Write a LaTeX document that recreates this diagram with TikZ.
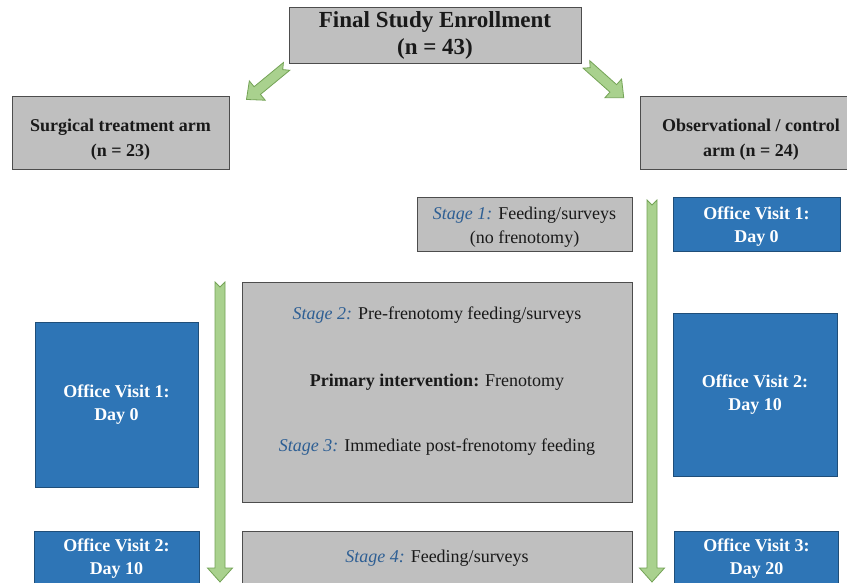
\documentclass[tikz,border=0pt]{standalone}
\usepackage{fontspec}
\setmainfont{Liberation Serif}
\usepackage{xcolor}
\usetikzlibrary{arrows.meta,positioning}

\definecolor{boxgray}{HTML}{BFBFBF}
\definecolor{boxedge}{HTML}{4D4D4D}
\definecolor{visitblue}{HTML}{2E75B6}
\definecolor{visitedge}{HTML}{1F4E79}
\definecolor{bargreen}{HTML}{A9D18E}
\definecolor{baredge}{HTML}{74A356}
\definecolor{stageblue}{HTML}{2E5F94}

% italic blue stage label
\newcommand{\stage}[1]{{\color{stageblue}\itshape Stage #1:}}
% green block arrow with notched tail: tail, angle, length
\newcommand{\greenbar}[3]{%
  \draw[barstyle, shift={#1}, rotate=#2] (0,5) -- (5,0) -- (0,-5) -- (#3-14,-5) -- (#3-14,-12.5)
    -- (#3,0) -- (#3-14,12.5) -- (#3-14,5) -- cycle;}

\begin{document}
\begin{tikzpicture}[
x=1pt, y=-1pt,
graybox/.style={draw=boxedge, fill=boxgray, line width=0.8pt, inner sep=0pt, align=center, text=black!90, font=\fontsize{18}{24}\selectfont},
armbox/.style={graybox, font=\fontsize{18}{25}\selectfont\bfseries},
visit/.style={draw=visitedge, fill=visitblue, line width=0.8pt, inner sep=0pt, align=center, text=white, font=\fontsize{18}{23.5}\selectfont\bfseries},
plain/.style={inner sep=0pt, text=black!90, font=\fontsize{18}{24}\selectfont},
barstyle/.style={draw=baredge, fill=bargreen, line width=0.8pt, line join=miter}
]
\useasboundingbox (0,0) rectangle (847,582);
\clip (0,0) rectangle (847,582);
\fill[white] (0,0) rectangle (847,582);

% enrollment and the two arms
\node[graybox, minimum width=292pt, minimum height=56pt, font=\fontsize{23}{27}\selectfont\bfseries] (enroll) at (435,35) {Final Study Enrollment\\(n = 43)};
\node[armbox, minimum width=217pt, minimum height=73pt] (surg) at (120.5,132.5) {\rule{0pt}{26pt}Surgical treatment arm\\(n = 23)};
\node[armbox, minimum width=222pt, minimum height=73pt] (obs) at (751,132.5) {\rule{0pt}{26pt}Observational / control\\arm (n = 24)};

% observational arm, first stage
\node[graybox, minimum width=215pt, minimum height=54pt] (stage1) at (524.5,224) {\rule{0pt}{18pt}\stage{1} Feeding/surveys\\(no frenotomy)};
\node[visit, minimum width=167pt, minimum height=54pt] (visit1r) at (756.5,224) {\rule{0pt}{18pt}Office Visit 1:\\Day 0};

% surgical stages
\node[graybox, minimum width=390pt, minimum height=220pt] (stages) at (437,392) {};
\node[plain] (pre) at (437,315) {\stage{2} Pre-frenotomy feeding/surveys};
\node[plain] (frenotomy) at (437,382) {\textbf{Primary intervention:} Frenotomy};
\node[plain] (post) at (437,447) {\stage{3} Immediate post-frenotomy feeding};
\node[visit, minimum width=163pt, minimum height=165pt] (visit1l) at (116.5,404.5) {Office Visit 1:\\Day 0};
\node[visit, minimum width=164pt, minimum height=163pt] (visit2r) at (755,394.5) {Office Visit 2:\\Day 10};

% last row
\node[visit, minimum width=165pt, minimum height=55pt] (visit2l) at (116.5,558.5) {Office Visit 2:\\Day 10};
\node[graybox, minimum width=390pt, minimum height=55pt] (stage4) at (437,558.5) {\stage{4} Feeding/surveys};
\node[visit, minimum width=164pt, minimum height=55pt] (visit3r) at (756.5,558.5) {Office Visit 3:\\Day 20};

% arrows
\coordinate (lefttail) at ([xshift=-2pt,yshift=-3pt]enroll.south west);
\coordinate (righttail) at ([xshift=5pt,yshift=-1pt]enroll.south east);
\coordinate (leftbar) at (220,282);
\coordinate (rightbar) at (652,200);
\greenbar{(lefttail)}{219.5}{52}
\greenbar{(righttail)}{-41.7}{50}
\greenbar{(leftbar)}{-90}{300}
\greenbar{(rightbar)}{-90}{382}
\end{tikzpicture}
\end{document}
